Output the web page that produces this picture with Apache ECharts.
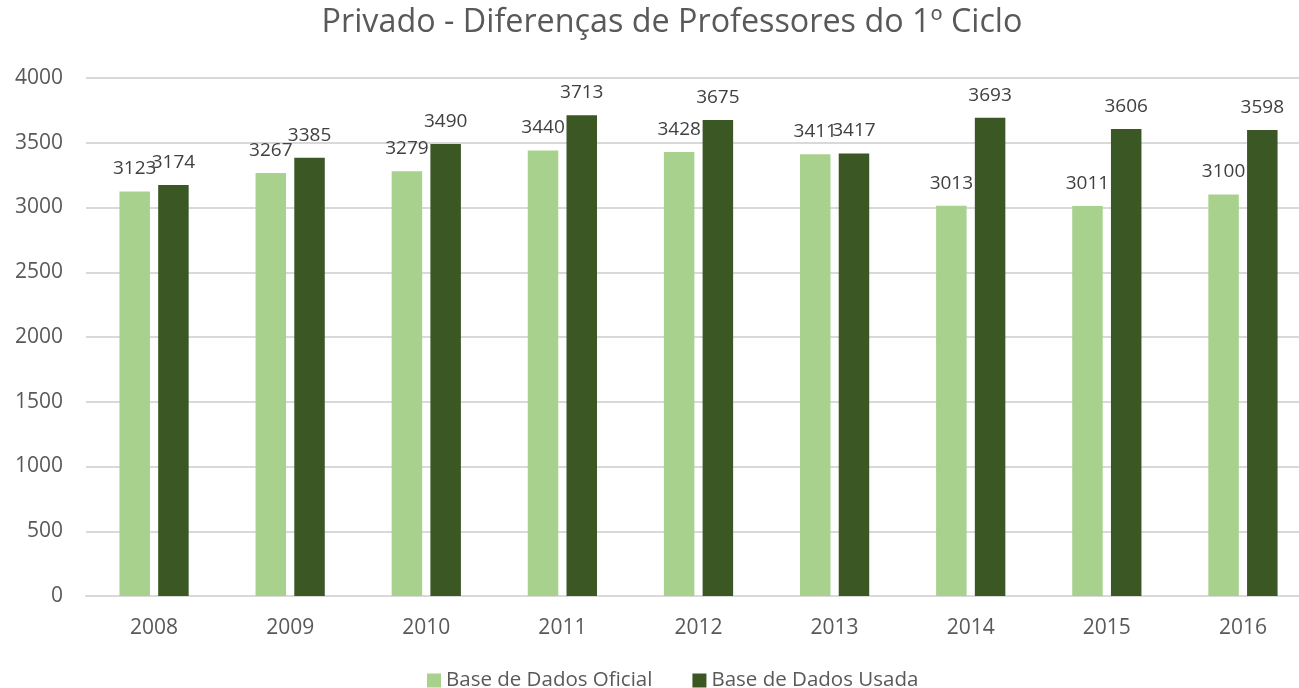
<!DOCTYPE html>
<html>
<head>
<meta charset="utf-8">
<script src="https://cdn.jsdelivr.net/npm/echarts@6/dist/echarts.min.js"></script>
<style>html,body{margin:0;padding:0;background:#fff;overflow:hidden}#c{width:1320px;height:688px}</style>
</head>
<body>
<div id="c"></div>
<script>
const years = ['2008','2009','2010','2011','2012','2013','2014','2015','2016'];
const oficial = [3123, 3267, 3279, 3440, 3428, 3411, 3013, 3011, 3100];
const usada = [3174, 3385, 3490, 3713, 3675, 3417, 3693, 3606, 3598];
const seriesNames = ['Base de Dados Oficial', 'Base de Dados Usada'];
const yTicks = { min: 0, max: 4000, interval: 500 };

const FONT = 'Open Sans';
const TXT = '#595959';
const chart = echarts.init(document.getElementById('c'));
const label = { show: true, position: 'top', distance: 13, color: '#404040', fontFamily: FONT, fontSize: 19 };
chart.setOption({
  animation: false,
  title: {
    text: 'Privado - Diferenças de Professores do 1º Ciclo',
    left: 667, top: 2, textAlign: 'center',
    textStyle: { fontFamily: FONT, fontSize: 32.3, fontWeight: 'normal', color: TXT }
  },
  legend: {
    top: 665, left: 422,
    itemWidth: 14, itemHeight: 14, itemGap: 40,
    icon: 'rect',
    textStyle: { fontFamily: FONT, fontSize: 20.5, color: TXT },
    data: seriesNames
  },
  grid: { left: 86, top: 78, width: 1225, bottom: 92, containLabel: false },
  xAxis: {
    type: 'category', data: years,
    axisLine: { lineStyle: { color: '#D9D9D9', width: 2 } },
    axisTick: { show: false },
    axisLabel: { color: TXT, fontFamily: FONT, fontSize: 21, margin: 22 }
  },
  yAxis: {
    type: 'value', min: yTicks.min, max: yTicks.max, interval: yTicks.interval,
    axisLine: { show: false }, axisTick: { show: false },
    splitLine: { lineStyle: { color: '#D9D9D9', width: 2 } },
    axisLabel: { color: TXT, fontFamily: FONT, fontSize: 21, margin: 23, formatter: v => String(v) }
  },
  series: [
    { name: seriesNames[0], type: 'bar', data: oficial, barWidth: 30.5, barGap: '27%',
      itemStyle: { color: '#A9D18E' }, label: label },
    { name: seriesNames[1], type: 'bar', data: usada, barWidth: 30.5, barGap: '27%',
      itemStyle: { color: '#3B5724' }, label: label }
  ]
});
</script>
</body>
</html>
